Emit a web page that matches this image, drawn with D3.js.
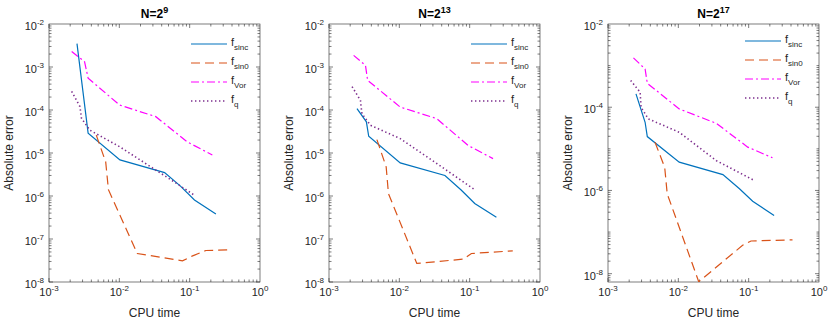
<!DOCTYPE html>
<html>
<head>
<meta charset="utf-8">
<script src="https://cdn.jsdelivr.net/npm/d3@7"></script>
<style>
    body { margin: 0; background: #fff; }
    text { font-family: "Liberation Sans", Arial, sans-serif; fill: #262626; }
</style>
</head>
<body>
<div id="chart"></div>
<script>
// panel titles (exponent of N=2^k)
const panelExponents = ["9", "13", "17"];
const seriesKeys = ["sinc", "sin0", "Vor", "q"];

// [CPU time, absolute error] for N=2^9
const sinc9 = [[2.5e-3, 3.5e-3], [3.6e-3, 2.9e-5], [1.02e-2, 6.9e-6], [4.4e-2, 3.5e-6], [7.4e-2, 1.7e-6], [0.117, 8.1e-7], [0.236, 3.8e-7]];
const sin09 = [[4.7e-3, 2.6e-5], [6.4e-3, 6.2e-6], [7.0e-3, 1.4e-6], [1.8e-2, 4.6e-8], [7.9e-2, 3.1e-8], [0.108, 4.0e-8], [0.17, 5.4e-8], [0.36, 5.6e-8]];
const vor9 = [[2.1e-3, 2.3e-3], [3.2e-3, 1.33e-3], [3.6e-3, 5.5e-4], [1.01e-2, 1.3e-4], [3.3e-2, 7.0e-5], [9.3e-2, 1.8e-5], [0.21, 9.0e-6]];
const q9 = [[2.1e-3, 2.7e-4], [2.75e-3, 1.2e-4], [2.9e-3, 6.4e-5], [3.8e-3, 3.4e-5], [1.01e-2, 1.4e-5], [3.3e-2, 4.0e-6], [6.4e-2, 2.0e-6], [0.116, 1.05e-6]];

// N=2^13
const sinc13 = [[2.5e-3, 1.08e-4], [3.4e-3, 5.3e-5], [3.67e-3, 2.45e-5], [1.03e-2, 5.9e-6], [4.45e-2, 3.0e-6], [7.5e-2, 1.4e-6], [0.118, 6.7e-7], [0.24, 3.2e-7]];
const sin013 = [[4.8e-3, 2.05e-5], [6.5e-3, 4.75e-6], [7.0e-3, 1.14e-6], [1.77e-2, 2.7e-8], [8.1e-2, 3.4e-8], [0.106, 4.6e-8], [0.41, 5.3e-8]];
const vor13 = [[2.24e-3, 1.86e-3], [3.3e-3, 1.09e-3], [3.54e-3, 4.9e-4], [1.03e-2, 1.17e-4], [3.4e-2, 6.3e-5], [9.5e-2, 1.5e-5], [0.215, 7.4e-6]];
const q13 = [[2.13e-3, 3.5e-4], [2.8e-3, 1.67e-4], [2.94e-3, 8.2e-5], [3.9e-3, 4.4e-5], [1.03e-2, 2.16e-5], [3.4e-2, 5.7e-6], [0.118, 1.4e-6]];

// N=2^17
const sinc17 = [[2.5e-3, 2.1e-4], [3.37e-3, 4.35e-5], [3.62e-3, 1.97e-5], [1.03e-2, 4.8e-6], [4.3e-2, 2.4e-6], [7.4e-2, 1.1e-6], [0.114, 5.5e-7], [0.23, 2.5e-7]];
const sin017 = [[4.66e-3, 1.44e-5], [6.4e-3, 3.6e-6], [6.95e-3, 8.3e-7], [1.95e-2, 6.4e-9], [8.2e-2, 4.8e-8], [0.108, 6.1e-8], [0.42, 6.5e-8]];
const vor17 = [[2.3e-3, 1.53e-3], [3.37e-3, 8.3e-4], [3.62e-3, 3.76e-4], [1.03e-2, 9.1e-5], [3.47e-2, 4.1e-5], [9.7e-2, 1.1e-5], [0.218, 6.1e-6]];
const q17 = [[2.1e-3, 4.4e-4], [2.86e-3, 2.3e-4], [2.95e-3, 1.0e-4], [3.74e-3, 5.25e-5], [1.03e-2, 2.5e-5], [3.47e-2, 5.2e-6], [0.12, 1.74e-6]];

const panelData = [
    [sinc9, sin09, vor9, q9],
    [sinc13, sin013, vor13, q13],
    [sinc17, sin017, vor17, q17]
];

// axis ranges and tick exponents
const xDomain = [1e-3, 1];
const xTickExps = [-3, -2, -1, 0];
const yDomains = [[1e-8, 1e-2], [1e-8, 1e-2], [Math.pow(10, -8.2), 1e-2]];
const yTickExps = [[-8, -7, -6, -5, -4, -3, -2], [-8, -7, -6, -5, -4, -3, -2], [-8, -6, -4, -2]];

const colors = { sinc: "#0072BD", sin0: "#D95319", Vor: "#FF00FF", q: "#7E2F8E" };
const dashes = { sinc: null, sin0: "9,5", Vor: "8,3,2,3", q: "1.4,2.6" };

const width = 830, height = 322;
const panelLeft = [49, 329, 608];
const plotW = 211, plotTop = 24, plotBottom = 282;
const legendPos = [[191, 44], [471, 44], [745, 41]];
const legendStep = 19;

const svg = d3.select("#chart").append("svg")
    .attr("width", width)
    .attr("height", height);

function powLabel(sel, exp, baseSize, supSize, supShift) {
    sel.append("tspan").text("10").style("font-size", baseSize + "px");
    sel.append("tspan").text(exp).attr("dy", -supShift).style("font-size", supSize + "px");
}

panelData.forEach((series, i) => {
    const left = panelLeft[i];
    const x = d3.scaleLog().domain(xDomain).range([left, left + plotW]);
    const y = d3.scaleLog().domain(yDomains[i]).range([plotBottom, plotTop]);
    const g = svg.append("g");

    g.append("clipPath").attr("id", "clip" + i)
        .append("rect")
        .attr("x", left).attr("y", plotTop)
        .attr("width", plotW).attr("height", plotBottom - plotTop);

    // minor + major ticks, inward on all four sides
    const ticks = g.append("g").attr("stroke", "#262626").attr("stroke-width", 0.6);
    const [y0, y1] = yDomains[i];
    for (let e = -3; e < 0; e++) {
        for (let m = 1; m < 10; m++) {
            const v = m * Math.pow(10, e);
            const len = m === 1 ? 4 : 2.5;
            ticks.append("line").attr("x1", x(v)).attr("x2", x(v)).attr("y1", plotBottom).attr("y2", plotBottom - len);
            ticks.append("line").attr("x1", x(v)).attr("x2", x(v)).attr("y1", plotTop).attr("y2", plotTop + len);
        }
    }
    for (let e = -9; e < -2; e++) {
        for (let m = 1; m < 10; m++) {
            const v = m * Math.pow(10, e);
            if (v < y0 || v > y1) continue;
            const len = (m === 1 && yTickExps[i].includes(e)) ? 4 : 2.5;
            ticks.append("line").attr("y1", y(v)).attr("y2", y(v)).attr("x1", left).attr("x2", left + len);
            ticks.append("line").attr("y1", y(v)).attr("y2", y(v)).attr("x1", left + plotW).attr("x2", left + plotW - len);
        }
    }

    g.append("rect")
        .attr("x", left).attr("y", plotTop)
        .attr("width", plotW).attr("height", plotBottom - plotTop)
        .attr("fill", "none")
        .attr("stroke", "#262626")
        .attr("stroke-width", 0.6);

    // tick labels
    xTickExps.forEach(e => {
        const t = g.append("text")
            .attr("x", x(Math.pow(10, e)))
            .attr("y", plotBottom + 14)
            .attr("text-anchor", "middle");
        powLabel(t, e, 11, 8, 5);
    });
    yTickExps[i].forEach(e => {
        const t = g.append("text")
            .attr("x", left - 5)
            .attr("y", y(Math.pow(10, e)) + 6)
            .attr("text-anchor", "end");
        powLabel(t, e, 11, 8, 5);
    });

    // title
    const title = g.append("text")
        .attr("x", left + plotW / 2)
        .attr("y", 18)
        .attr("text-anchor", "middle")
        .style("font-weight", "bold")
        .style("fill", "#000");
    title.append("tspan").text("N=2").style("font-size", "12px");
    title.append("tspan").text(panelExponents[i]).attr("dy", -5).style("font-size", "9px");

    g.append("text")
        .attr("transform", `translate(${left - 36},${(plotTop + plotBottom) / 2}) rotate(-90)`)
        .attr("text-anchor", "middle")
        .style("font-size", "12px")
        .text("Absolute error");

    g.append("text")
        .attr("x", left + plotW / 2)
        .attr("y", 317)
        .attr("text-anchor", "middle")
        .style("font-size", "12px")
        .text("CPU time");

    // data lines
    const line = d3.line().x(d => x(d[0])).y(d => y(d[1]));
    const lines = g.append("g").attr("clip-path", `url(#clip${i})`);
    series.forEach((pts, k) => {
        const key = seriesKeys[k];
        lines.append("path")
            .datum(pts)
            .attr("d", line)
            .attr("fill", "none")
            .attr("stroke", colors[key])
            .attr("stroke-width", key === "q" ? 1.6 : 1.2)
            .attr("stroke-dasharray", dashes[key]);
    });

    // legend
    const [lx, ly] = legendPos[i];
    seriesKeys.forEach((key, k) => {
        const yy = ly + k * legendStep;
        g.append("line")
            .attr("x1", lx).attr("x2", lx + 36)
            .attr("y1", yy).attr("y2", yy)
            .attr("stroke", colors[key])
            .attr("stroke-width", key === "q" ? 1.6 : 1.2)
            .attr("stroke-dasharray", dashes[key]);
        const t = g.append("text")
            .attr("x", lx + 40)
            .attr("y", yy + 2);
        t.append("tspan").text("f").style("font-size", "11px");
        t.append("tspan").text(key).attr("dy", 4).style("font-size", "8px");
    });
});
</script>
</body>
</html>
